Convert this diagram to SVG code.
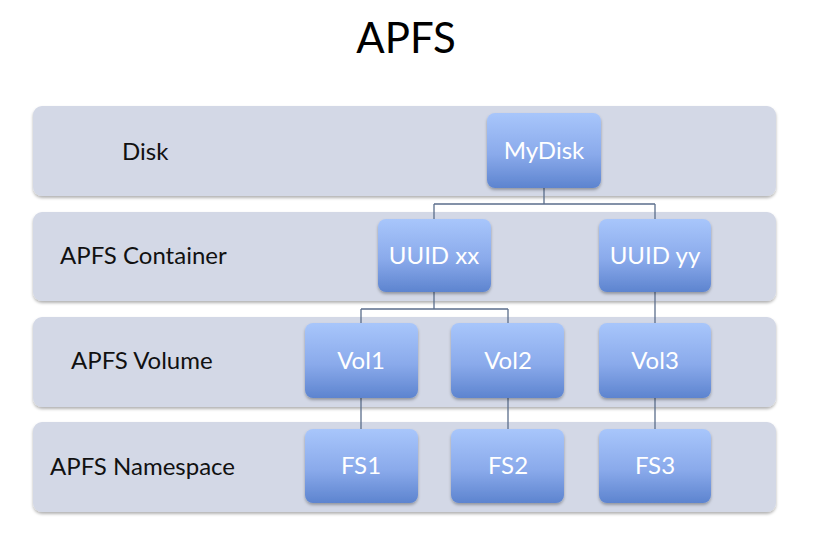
<svg xmlns="http://www.w3.org/2000/svg" width="814" height="533" viewBox="0 0 814 533">
<defs>
<linearGradient id="nodeGrad" x1="0" y1="0" x2="0" y2="1">
<stop offset="0" stop-color="#a8c6fb"/>
<stop offset="0.55" stop-color="#8aaaeb"/>
<stop offset="1" stop-color="#5d84cf"/>
</linearGradient>
<filter id="shadow" x="-10%" y="-10%" width="120%" height="130%">
<feDropShadow dx="0" dy="2" stdDeviation="1.5" flood-color="#000" flood-opacity="0.3"/>
</filter>
</defs>
<style>
.band{fill:#d3d8e6;filter:url(#shadow);}
.node{fill:url(#nodeGrad);filter:url(#shadow);}
.lbl{font-family:Lato,"Liberation Sans",sans-serif;font-size:24px;fill:#111;}
.ntxt{font-family:Lato,"Liberation Sans",sans-serif;font-size:24px;fill:#fff;text-anchor:middle;}
.title{font-family:Lato,"Liberation Sans",sans-serif;font-size:42px;fill:#000;text-anchor:middle;}
.conn{stroke:#5b6e8c;stroke-width:1.3;fill:none;}
</style>
<rect width="814" height="533" fill="#fff"/>
<text class="title" x="406" y="53">APFS</text>
<g id="bands">
<g id="band-disk"><rect class="band" x="33" y="106" width="743" height="90" rx="9"/><text class="lbl" x="122" y="160">Disk</text></g>
<g id="band-container"><rect class="band" x="33" y="212" width="743" height="89" rx="9"/><text class="lbl" x="60" y="264">APFS Container</text></g>
<g id="band-volume"><rect class="band" x="33" y="317" width="743" height="90" rx="9"/><text class="lbl" x="71" y="369">APFS Volume</text></g>
<g id="band-namespace"><rect class="band" x="33" y="422" width="743" height="90" rx="9"/><text class="lbl" x="50" y="475">APFS Namespace</text></g>
</g>
<g id="connectors">
<path class="conn" d="M544 188 V204 M434 204 H655 M434 204 V219 M655 204 V219"/>
<path class="conn" d="M434 292 V309 M361 309 H508 M361 309 V324 M508 309 V324"/>
<path class="conn" d="M655 292 V324"/>
<path class="conn" d="M361 398 V429 M508 398 V429 M655 398 V429"/>
</g>
<g id="node-mydisk"><rect class="node" x="487" y="113" width="114" height="75" rx="8"/><text class="ntxt" x="544" y="159">MyDisk</text></g>
<g id="node-uuidxx"><rect class="node" x="378" y="219" width="113" height="73" rx="8"/><text class="ntxt" x="434" y="264">UUID xx</text></g>
<g id="node-uuidyy"><rect class="node" x="599" y="219" width="112" height="73" rx="8"/><text class="ntxt" x="655" y="264">UUID yy</text></g>
<g id="node-vol1"><rect class="node" x="305" y="323" width="113" height="75" rx="8"/><text class="ntxt" x="361" y="369">Vol1</text></g>
<g id="node-vol2"><rect class="node" x="451" y="323" width="113" height="75" rx="8"/><text class="ntxt" x="508" y="369">Vol2</text></g>
<g id="node-vol3"><rect class="node" x="599" y="323" width="112" height="75" rx="8"/><text class="ntxt" x="655" y="369">Vol3</text></g>
<g id="node-fs1"><rect class="node" x="305" y="429" width="113" height="74" rx="8"/><text class="ntxt" x="361" y="474">FS1</text></g>
<g id="node-fs2"><rect class="node" x="451" y="429" width="113" height="74" rx="8"/><text class="ntxt" x="508" y="474">FS2</text></g>
<g id="node-fs3"><rect class="node" x="599" y="429" width="112" height="74" rx="8"/><text class="ntxt" x="655" y="474">FS3</text></g>
</svg>
